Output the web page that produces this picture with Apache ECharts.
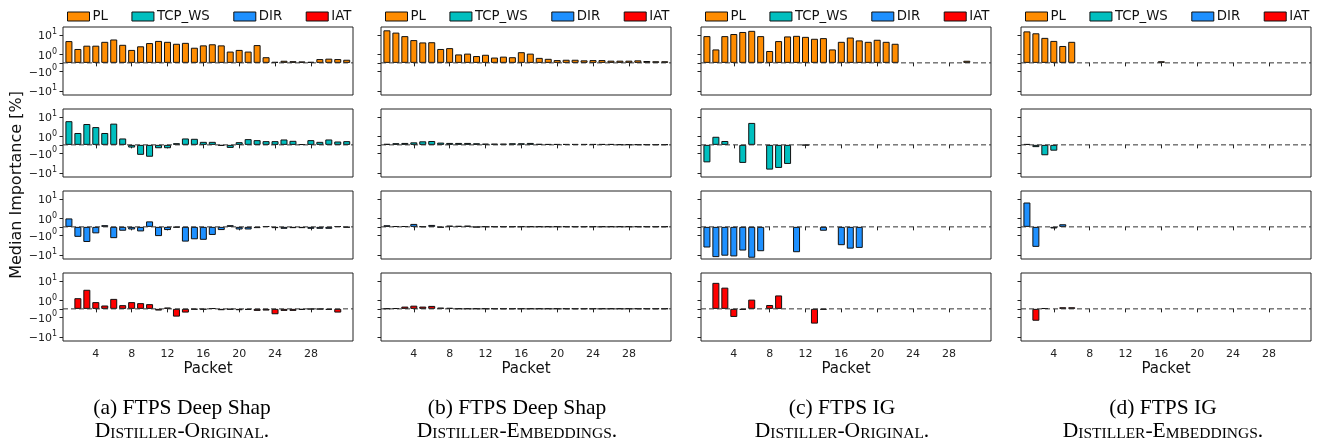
<!DOCTYPE html>
<html><head><meta charset="utf-8">
<script src="https://cdn.jsdelivr.net/npm/echarts@6/dist/echarts.min.js"></script>
<style>html,body{margin:0;padding:0;background:#fff}#c{width:1318px;height:442px}</style>
</head><body><div id="c"></div>
<script>
// ---------------- DATA ----------------
const packets = [1,2,3,4,5,6,7,8,9,10,11,12,13,14,15,16,17,18,19,20,21,22,23,24,25,26,27,28,29,30,31,32];
const features = ['PL','TCP_WS','DIR','IAT'];
const xTickValues = [4,8,12,16,20,24,28];
const yTickValues = [-10,-1,1,10];
const yTickBase = ['\u221210','\u221210','10','10'];
const yTickExp = ['1','0','0','1'];
const captionLine1 = ['(a) FTPS Deep Shap','(b) FTPS Deep Shap','(c) FTPS IG','(d) FTPS IG'];
const captionLine2 = ['Distiller-Original.','Distiller-Embeddings.','Distiller-Original.','Distiller-Embeddings.'];

// (a) Deep Shap, Distiller-Original
const dsOrigPL  = [4.8,1.9,2.8,2.8,4.4,5.8,3.1,1.7,2.6,3.8,4.9,4.4,3.5,3.9,2.2,2.9,3.3,2.9,1.4,1.7,1.4,3.0,0.67,0.12,0.25,0.2,0.17,0.12,0.45,0.5,0.45,0.37];
const dsOrigTCP = [6.0,1.5,4.3,3.0,1.5,4.5,0.76,-0.32,-1.2,-1.5,-0.4,-0.4,0.2,0.76,0.72,0.36,0.36,-0.12,-0.36,0.32,0.68,0.56,0.44,0.44,0.64,0.48,0.08,0.56,0.36,0.64,0.4,0.44];
const dsOrigDIR = [1.0,-1.2,-2.2,-0.77,0.2,-1.4,-0.46,-0.31,-0.54,0.65,-1.1,-0.38,-0.08,-2.1,-1.6,-1.7,-0.96,-0.38,0.2,-0.31,-0.31,-0.15,0.08,-0.15,-0.23,-0.15,-0.15,-0.23,-0.23,-0.23,0.08,-0.08];
const dsOrigIAT = [null,1.3,3.5,0.8,0.4,1.2,0.44,0.8,0.68,0.56,-0.2,0.16,-0.92,-0.44,-0.08,-0.08,0.08,-0.16,-0.08,-0.16,-0.12,-0.24,-0.2,-0.64,-0.24,-0.24,-0.12,-0.04,-0.04,-0.12,-0.44,null];
// (b) Deep Shap, Distiller-Embeddings
const dsEmbPL  = [17,13,8.6,5.4,4.1,4.2,1.9,2.1,1.0,1.1,0.81,0.96,0.63,0.74,0.67,1.3,1.1,0.59,0.48,0.33,0.37,0.37,0.30,0.33,0.33,0.26,0.26,0.26,0.3,0.22,0.19,0.19];
const dsEmbTCP = [0.12,0.2,0.23,0.3,0.42,0.46,0.27,0.23,0.23,0.23,0.19,0.15,0.15,0.15,0.19,0.19,0.23,0.12,0.1,0.1,0.1,0.1,0.1,0.1,0.1,0.1,0.05,0.05,0.05,0.05,0.05,0.05];
const dsEmbDIR = [0.19,0.08,0.08,0.35,0.04,0.23,-0.08,0.15,0.12,0.15,-0.04,0.04,0.04,0.04,0.04,0.04,0.04,0.04,0.04,0.04,0.04,0.04,0.04,0.04,0.04,0.04,0.04,0.04,0.04,0.04,0.04,0.04];
const dsEmbIAT = [0.04,0.08,0.27,0.38,0.27,0.35,0.15,0.12,0.03,0.03,0.03,0.03,0.03,0.03,0.03,0.03,0.03,0.03,0.03,0.03,0.03,0.03,0.03,0.03,0.03,0.03,0.03,0.03,0.03,0.03,0.03,0.03];
// (c) IG, Distiller-Original
const igOrigPL  = [8.6,1.8,8.6,11,14,16,8.6,1.5,4.8,8.3,8.9,7.9,6.3,6.8,1.8,4.4,7.3,5.2,4.4,5.6,4.4,3.5,null,null,null,null,null,null,null,0.25,null,null];
const igOrigTCP = [-2.9,0.96,0.46,null,-3.1,4.9,null,-6.8,-5.6,-3.5,null,-0.05,null,null,null,null,null,null,null,null,null,null,null,null,null,null,null,null,null,null,null,null];
const igOrigDIR = [-4.2,-13,-11,-12,-6,-14,-6.5,null,null,null,-7.3,null,null,-0.46,null,-3.2,-4.8,-4.4,null,null,null,null,null,null,null,null,null,null,null,null,null,null];
const igOrigIAT = [null,7.9,4.5,-0.96,-0.12,1.1,null,0.46,1.8,null,null,null,-2.1,-0.1,null,null,null,null,null,null,null,null,null,null,null,null,null,null,null,null,null,null];
// (d) IG, Distiller-Embeddings
const igEmbPL  = [15,12,7,4.9,2.7,4.4,null,null,null,null,null,null,null,null,null,0.19,null,null,null,null,null,null,null,null,null,null,null,null,null,null,null,null];
const igEmbTCP = [0.1,-0.27,-1.26,-0.69,null,null,null,null,null,null,null,null,null,null,null,null,null,null,null,null,null,null,null,null,null,null,null,null,null,null,null,null];
const igEmbDIR = [6.5,-3.9,null,-0.19,0.31,null,null,null,null,null,null,null,null,null,null,null,null,null,null,null,null,null,null,null,null,null,null,null,null,null,null,null];
const igEmbIAT = [null,-1.5,0.08,null,0.19,0.19,null,null,null,null,null,null,null,null,null,null,null,null,null,null,null,null,null,null,null,null,null,null,null,null,null,null];

const panels = [
  [dsOrigPL, dsOrigTCP, dsOrigDIR, dsOrigIAT],
  [dsEmbPL, dsEmbTCP, dsEmbDIR, dsEmbIAT],
  [igOrigPL, igOrigTCP, igOrigDIR, igOrigIAT],
  [igEmbPL, igEmbTCP, igEmbDIR, igEmbIAT]
];

// ---------------- STYLE / LAYOUT ----------------
const colors = {PL:'#FF8C00', TCP_WS:'#00BFBF', DIR:'#1E90FF', IAT:'#FF0000'};
const colLeft = [63, 381, 701, 1021];
const rowTop = [27, 109, 191, 273];
const panelW = 290, panelH = 68;
const capX = [182, 517, 842, 1163];

// symmetric-log transform (linear inside |v|<=1, log10 outside)
const LIN = 0.43;
function symlog(v){
  if (v === null || v === undefined) return null;
  const m = Math.abs(v), s = Math.sign(v);
  return s * (m <= 1 ? LIN * m : LIN + Math.log10(m));
}
const Y_MIN = -1.64, Y_MAX = 1.83, X_MIN = 0.34, X_MAX = 32.7;
const yTickT = yTickValues.map(symlog);
const yTickTAll = [symlog(-10), symlog(-1), 0, symlog(1), symlog(10)];

const grids = [], xAxes = [], yAxes = [], series = [];
for (let c = 0; c < 4; c++) {
  for (let r = 0; r < 4; r++) {
    const idx = c * 4 + r;
    grids.push({left: colLeft[c], top: rowTop[r], width: panelW, height: panelH,
      show: true, borderColor: '#222', borderWidth: 1, backgroundColor: 'transparent'});
    xAxes.push({type: 'value', gridIndex: idx, min: X_MIN, max: X_MAX,
      axisLine: {show: false}, splitLine: {show: false},
      axisTick: {show: true, customValues: xTickValues, length: 3.5, lineStyle: {color: '#222', width: 1}},
      axisLabel: {show: r === 3, customValues: xTickValues, fontSize: 11, color: '#222',
        fontFamily: 'DejaVu Sans', margin: 7.5},
      name: r === 3 ? 'Packet' : '', nameLocation: 'middle', nameGap: 21,
      nameTextStyle: {fontSize: 15, fontFamily: 'DejaVu Sans', color: '#111', verticalAlign: 'top'}
    });
    yAxes.push({type: 'value', gridIndex: idx, min: Y_MIN, max: Y_MAX,
      axisLine: {show: false}, splitLine: {show: false},
      axisTick: {show: true, customValues: yTickTAll, length: 3.5, lineStyle: {color: '#222', width: 1}},
      axisLabel: {show: c === 0, customValues: yTickT, color: '#222', margin: 6,
        formatter: function (val) {
          let best = 0;
          for (let k = 1; k < yTickT.length; k++) if (Math.abs(yTickT[k] - val) < Math.abs(yTickT[best] - val)) best = k;
          return '{b|' + yTickBase[best] + '}{s|' + yTickExp[best] + '}';
        },
        rich: {
          b: {fontSize: 11, fontFamily: 'DejaVu Sans', color: '#222', lineHeight: 14, verticalAlign: 'bottom'},
          s: {fontSize: 8, fontFamily: 'DejaVu Sans', color: '#222', lineHeight: 10, verticalAlign: 'top'}
        }}
    });
    const vals = panels[c][r];
    const data = [];
    packets.forEach((p, k) => { if (vals[k] !== null) data.push([p, symlog(vals[k])]); });
    series.push({type: 'bar', name: features[r], xAxisIndex: idx, yAxisIndex: idx,
      data: data, barWidth: 7, silent: true, z: 2,
      itemStyle: {color: colors[features[r]], borderColor: '#111', borderWidth: 1}});
    series.push({type: 'line', xAxisIndex: idx, yAxisIndex: idx, data: [[X_MIN, 0], [X_MAX, 0]],
      symbol: 'none', silent: true, z: 3, clip: false,
      lineStyle: {color: '#333', width: 1, type: [5, 3]}});
  }
}

const legends = colLeft.map(l => ({
  left: l - 1, top: 5, data: features, icon: 'rect', itemWidth: 22, itemHeight: 9, itemGap: 23.5,
  selectedMode: false,
  itemStyle: {borderColor: '#111', borderWidth: 1},
  textStyle: {fontSize: 13.3, fontFamily: 'DejaVu Sans', color: '#111', padding: [0, 0, 0, -2]}
}));

function smallCaps(s) {
  // upper-case letters at full size, lower-case as small capitals
  let out = '', buf = '', mode = null;
  const flush = () => { if (buf) out += '{' + mode + '|' + buf + '}'; buf = ''; };
  for (const ch of s) {
    const m = (ch >= 'a' && ch <= 'z') ? 's' : 'c';
    if (m !== mode) { flush(); mode = m; }
    buf += (m === 's') ? ch.toUpperCase() : ch;
  }
  flush();
  return out;
}

const graphics = [{
  type: 'text', x: 17, y: 185, rotation: Math.PI / 2,
  style: {text: 'Median Importance [%]', font: '16px "DejaVu Sans"', fill: '#111',
    textAlign: 'center', textVerticalAlign: 'middle'}
}];
for (let c = 0; c < 4; c++) {
  graphics.push({type: 'text', x: capX[c], y: 408,
    style: {text: captionLine1[c], font: '21.5px "Liberation Serif"', fill: '#000',
      textAlign: 'center', textVerticalAlign: 'middle'}});
  graphics.push({type: 'text', x: capX[c], y: 431,
    style: {text: smallCaps(captionLine2[c]), textAlign: 'center', textVerticalAlign: 'middle', fill: '#000',
      rich: {c: {fontSize: 21.5, fontFamily: 'Liberation Serif', verticalAlign: 'bottom'},
             s: {fontSize: 15.5, fontFamily: 'Liberation Serif', verticalAlign: 'bottom'}}}});
}

const chart = echarts.init(document.getElementById('c'), null, {renderer: 'canvas'});
chart.setOption({
  animation: false,
  backgroundColor: '#fff',
  grid: grids, xAxis: xAxes, yAxis: yAxes, series: series,
  legend: legends,
  graphic: graphics
});
</script></body></html>
